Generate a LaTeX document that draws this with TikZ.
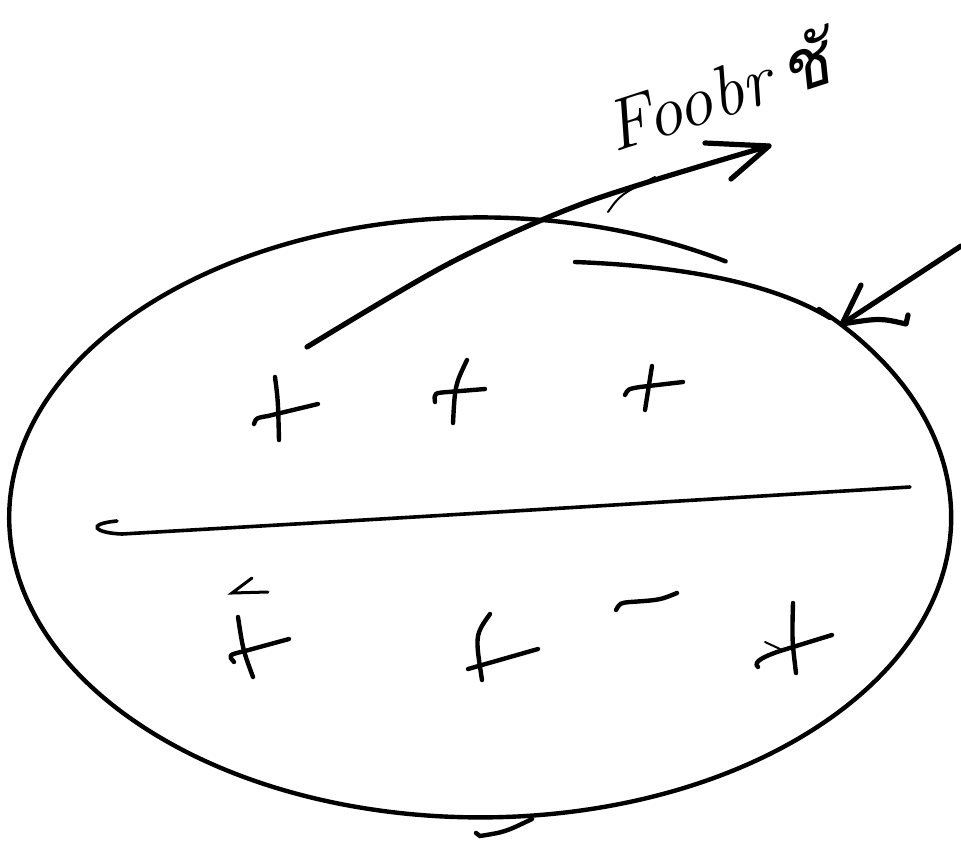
\documentclass[tikz,border=0pt]{standalone}
\usepackage{fontspec}
\newfontfamily\thaifont[Script=Thai]{Loma}
\usetikzlibrary{calc}
\tikzset{pen/.style={line width=5.2pt,line cap=round,line join=round},
  rim/.style={line width=4.4pt,line cap=round},
  sign/.style={line width=4.4pt,line cap=round,line join=round},
  hair/.style={line width=2pt,line cap=round},
  scrawl/.style={font=\fontsize{72}{76}\selectfont\itshape,inner sep=0pt}}
\begin{document}
\begin{tikzpicture}[x=1pt,y=-1pt]
\useasboundingbox (0,0) rectangle (961,843);
% outline of the body, top stroke overshooting
\draw[rim] (819,309) arc[start angle=-44,end angle=301.4,x radius=471,y radius=300];
\draw[rim] (575,262) .. controls (680,266) and (770,282) .. (830,318);
\draw[rim] (532,819) .. controls (505,832) .. (480,836) -- (476,833);
% dividing line
\draw[rim,line width=3.6pt] (117,521) .. controls (85,524) and (95,533) .. (122,534) .. controls (400,518) .. (910,487);
% label and arrows
\node[scrawl,rotate=18] (label) at (716,90) {Foobr\,{\thaifont ชั}};
\coordinate (tail) at (307,347);
\coordinate (tip) at (769,146);
\draw[pen] plot[smooth] coordinates {(tail) (450,263) (587,202) (tip)};
\draw[pen] (705,143) -- (tip) -- (731,179);
\draw[hair] (608,212) .. controls (620,195) .. (655,177);
\coordinate (rtail) at (961,246);
\coordinate (rtip) at (842,324);
\draw[pen] (rtail) -- (rtip);
\draw[pen] (861,285) -- (rtip) .. controls (880,318) .. (906,324) -- (908,315);
% charges, upper half
\draw[sign] (275,377) .. controls (278,400) .. (279,440);
\draw[sign] (254,424) .. controls (256,418) .. (268,416) -- (318,404);
\draw[sign] (467,360) .. controls (455,385) .. (453,423);
\draw[sign] (435,402) .. controls (434,393) .. (448,392) -- (485,389);
\draw[sign] (652,366) -- (645,410);
\draw[sign] (625,395) .. controls (628,389) .. (640,387) -- (683,382);
% charges, lower half
\draw[hair,line width=3pt] (252,578) -- (232,593) -- (268,592);
\draw[sign] (238,617) .. controls (243,650) .. (253,677);
\draw[sign] (289,639) -- (245,651) .. controls (228,655) .. (234,662);
\draw[sign] (490,614) .. controls (475,635) .. (482,680);
\draw[sign] (468,669) -- (538,649);
\draw[sign] (616,610) .. controls (620,603) .. (630,602) .. controls (660,600) .. (677,593);
\draw[sign] (793,603) .. controls (792,640) .. (796,673);
\draw[sign] (758,667) .. controls (752,662) and (765,656) .. (780,651) -- (832,635);
\draw[hair] (765,642) -- (780,649);
\end{tikzpicture}
\end{document}
